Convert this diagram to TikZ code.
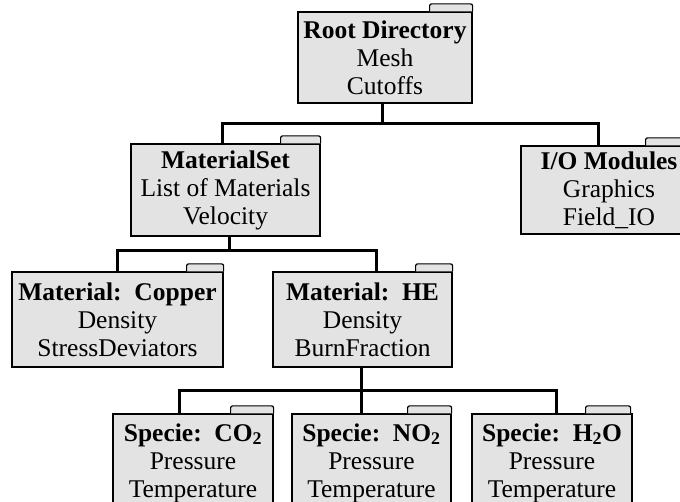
\documentclass[tikz,border=0pt]{standalone}
\usepackage{fontspec}
\setmainfont{Liberation Serif}
\begin{document}
\begin{tikzpicture}[x=1pt,y=-1pt,
  folder/.style={draw=black, line width=1.2pt, fill=black!11, inner sep=0pt,
    align=center, font=\fontsize{25.5}{28}\selectfont},
  tabpart/.style={draw=black, line width=1.2pt, fill=black!11, rounded corners=2pt},
  conn/.style={draw=black, line width=3pt}]
\useasboundingbox (0,0) rectangle (680,502);
\clip (0,0) rectangle (680,502);
\fill[white] (0,0) rectangle (680,502);

% boxes
\node[folder, minimum width=174pt, minimum height=91pt] (root) at (385,57.5)
  {\textbf{Root Directory}\\Mesh\\Cutoffs};
\node[folder, minimum width=189pt, minimum height=92pt] (matset) at (225.5,190)
  {\textbf{MaterialSet}\\List of Materials\\Velocity};
\node[folder, minimum width=176pt, minimum height=88pt] (io) at (609,190)
  {\textbf{I/O Modules}\\Graphics\\Field\_IO};
\node[folder, minimum width=211pt, minimum height=95pt] (copper) at (117.5,319.5)
  {\textbf{Material:\ \ Copper}\\Density\\StressDeviators};
\node[folder, minimum width=179pt, minimum height=95pt] (he) at (362.5,319.5)
  {\textbf{Material:\ \ HE}\\Density\\BurnFraction};
\node[folder, minimum width=160pt, minimum height=98pt] (co2) at (193,463)
  {\textbf{Specie:\ \ CO\textsubscript{2}}\\Pressure\\Temperature};
\node[folder, minimum width=159pt, minimum height=98pt] (no2) at (371.5,463)
  {\textbf{Specie:\ \ NO\textsubscript{2}}\\Pressure\\Temperature};
\node[folder, minimum width=160pt, minimum height=98pt] (h2o) at (552,463)
  {\textbf{Specie:\ \ H\textsubscript{2}O}\\Pressure\\Temperature};

% folder tabs
\foreach \n/\a/\b in {root/-43/0, matset/-40/0, io/-52/-12, copper/-37/0,
                      he/-37/0, co2/-43/0, no2/-44/0, h2o/-47/-2}{
  \path[tabpart] ([xshift=\a pt]\n.north east) -- ++(0,-7.5) -- ++(\b-\a,0) -- ++(0,7.5);
}

% level 1 connectors
\coordinate (j0) at ([xshift=-3pt,yshift=-20pt]root.south);
\draw[conn] ([xshift=-3pt]root.south) -- (j0);
\draw[conn] ([xshift=-3.5pt]matset.north) |- (j0) -| ([xshift=-11pt]io.north);

% level 2 connectors
\coordinate (j1) at ([xshift=3.5pt,yshift=-14pt]matset.south);
\draw[conn] ([xshift=3.5pt]matset.south) -- (j1);
\draw[conn] (copper.north) |- (j1) -| ([xshift=13.5pt]he.north);

% level 3 connectors
\coordinate (j2) at ([xshift=-1pt,yshift=-23pt]he.south);
\draw[conn] ([xshift=-1pt]he.south) -- ([xshift=-10pt]no2.north);
\draw[conn] ([xshift=-13.5pt]co2.north) |- (j2) -| ([xshift=4pt]h2o.north);
\end{tikzpicture}
\end{document}
